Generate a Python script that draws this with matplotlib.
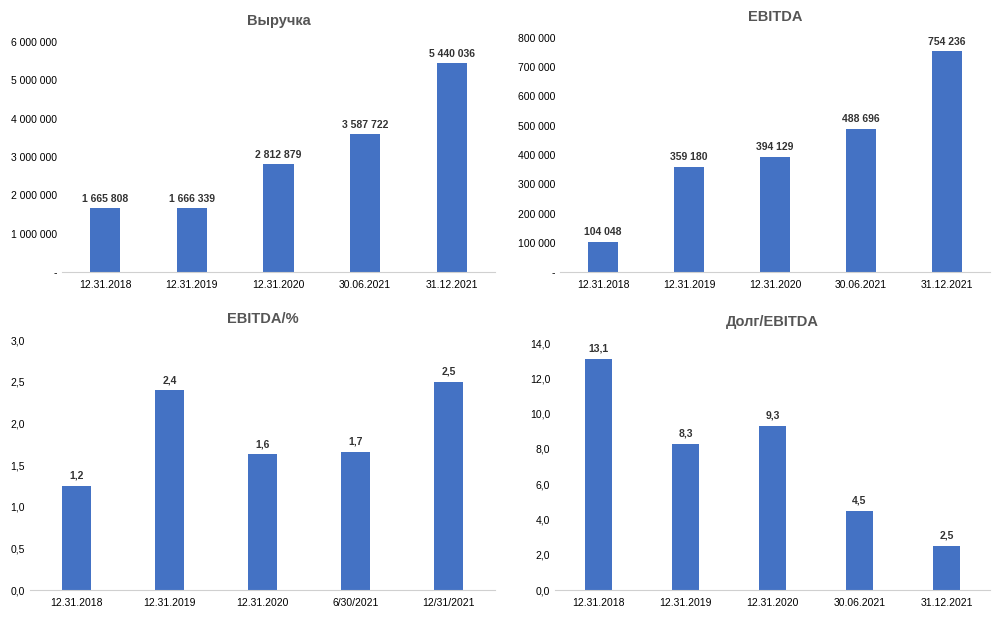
import matplotlib.pyplot as plt
from matplotlib.ticker import FuncFormatter

plt.rcParams['font.family'] = ['Liberation Sans', 'DejaVu Sans']

cats_a = ["12.31.2018", "12.31.2019", "12.31.2020", "30.06.2021", "31.12.2021"]
cats_c = ["12.31.2018", "12.31.2019", "12.31.2020", "6/30/2021", "12/31/2021"]
revenue = [1665808, 1666339, 2812879, 3587722, 5440036]
ebitda = [104048, 359180, 394129, 488696, 754236]
ebitda_pct = [1.25, 2.4, 1.63, 1.66, 2.5]
debt_ebitda = [13.1, 8.3, 9.3, 4.5, 2.5]

BLUE = "#4472C4"
W, H = 997, 620


def px_axes(fig, l, r, t, b):
    return fig.add_axes([l / W, 1 - b / H, (r - l) / W, (b - t) / H])


def thousands(v):
    if v == 0:
        return "-"
    return "{:,.0f}".format(v).replace(",", " ")


def comma1(v):
    return "{:.1f}".format(v).replace(".", ",")


def draw(ax, cats, vals, title, ymax, step, tickfmt, labfmt, width):
    x = range(len(vals))
    ax.bar(x, vals, width=width, color=BLUE)
    ax.set_xticks(list(x))
    ax.set_xticklabels(cats, fontsize=7.5)
    ax.set_ylim(0, ymax)
    ax.set_xlim(-0.5, len(vals) - 0.5)
    ticks = [i * step for i in range(int(round(ymax / step)) + 1)]
    ax.set_yticks(ticks)
    ax.yaxis.set_major_formatter(FuncFormatter(lambda v, p: tickfmt(v)))
    ax.tick_params(axis='y', labelsize=7.5, length=0)
    ax.tick_params(axis='x', length=0, pad=6)
    for s in ["top", "right", "left"]:
        ax.spines[s].set_visible(False)
    ax.spines["bottom"].set_color("#d0d0d0")
    for i, v in enumerate(vals):
        ax.text(i, v + ymax * 0.02, labfmt(v), ha="center", va="bottom",
                fontsize=7.5, fontweight="bold", color="#333333")
    ax.set_title(title, fontsize=10.5, fontweight="bold", color="#555555", pad=12)


fig = plt.figure(figsize=(W / 100, H / 100), dpi=100)

ax1 = px_axes(fig, 62, 495, 42, 272)
draw(ax1, cats_a, revenue, "Выручка", 6000000, 1000000, thousands, thousands, 0.35)

ax2 = px_axes(fig, 560, 990, 38, 272)
draw(ax2, cats_a, ebitda, "EBITDA", 800000, 100000, thousands, thousands, 0.35)

ax3 = px_axes(fig, 30, 495, 340, 590)
draw(ax3, cats_c, ebitda_pct, "EBITDA/%", 3.0, 0.5, comma1, comma1, 0.32)

ax4 = px_axes(fig, 555, 990, 343, 590)
draw(ax4, cats_a, debt_ebitda, "Долг/EBITDA", 14.0, 2.0, comma1, comma1, 0.32)

fig.savefig("out.png", dpi=100)
